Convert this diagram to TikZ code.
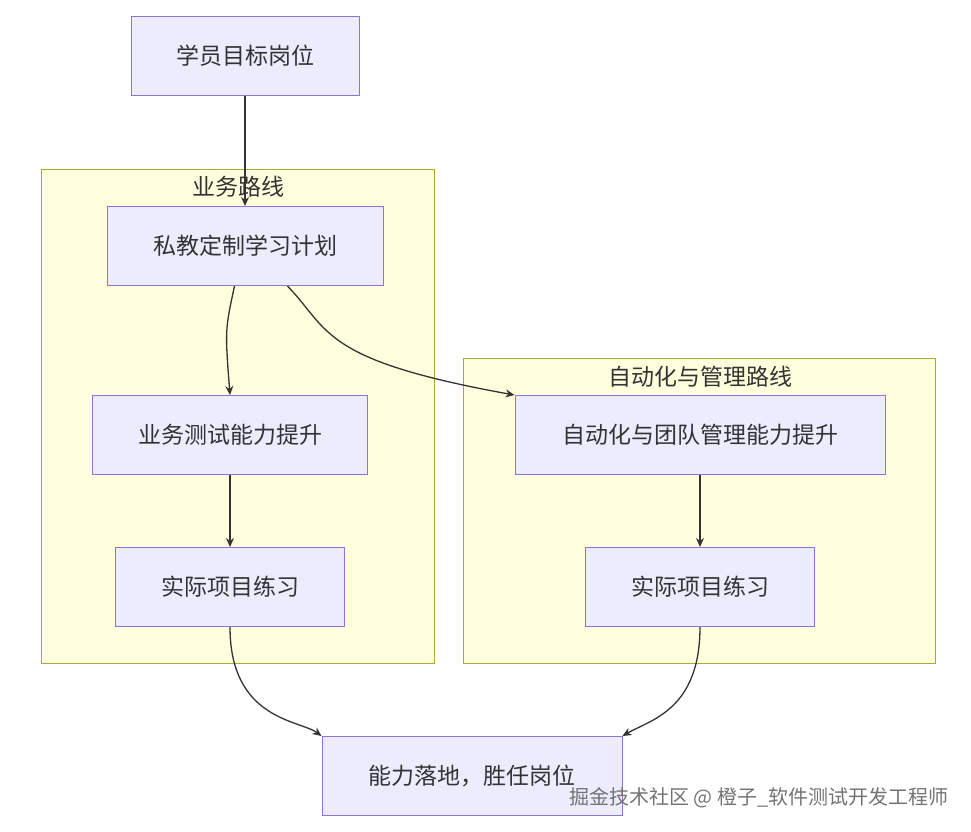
\documentclass[tikz,border=0pt]{standalone}
\usepackage{fontspec}
\setmainfont{Noto Sans CJK SC}
\usetikzlibrary{arrows.meta,positioning}
\definecolor{nodefill}{HTML}{ECECFF}
\definecolor{nodeline}{HTML}{9370DB}
\definecolor{grpfill}{HTML}{FFFFDE}
\definecolor{grpline}{HTML}{AAAA33}
\definecolor{edge}{HTML}{333333}
\tikzstyle{block} = [draw=nodeline, fill=nodefill, rectangle, line width=1pt,
    minimum height=79pt, font=\fontsize{23}{27}\selectfont, text=edge]
\tikzstyle{group} = [draw=grpline, fill=grpfill, line width=1pt]
\tikzstyle{grplabel} = [font=\fontsize{23}{27}\selectfont, text=edge]
\tikzstyle{link} = [draw=edge, line width=1.3pt, -{Stealth[length=9pt,width=8pt]}]

\begin{document}
\begin{tikzpicture}[x=1pt, y=-1pt]
\useasboundingbox (0,0) rectangle (971,831);

% groups
\draw [group] (41,169) rectangle (434,663);
\node [grplabel] (bizlbl) at (238,187) {业务路线};
\draw [group] (463,358) rectangle (935,663);
\node [grplabel] (autolbl) at (700,377) {自动化与管理路线};

\node [block, minimum width=228pt] (goal) at (245,56) {学员目标岗位};
\node [block, minimum width=276pt] (plan) at (245,246) {私教定制学习计划};
\node [block, minimum width=275pt] (biz) at (230,435) {业务测试能力提升};
\node [block, minimum width=229pt] (prac1) at (230,587) {实际项目练习};
\node [block, minimum width=370pt] (auto) at (700,435) {自动化与团队管理能力提升};
\node [block, minimum width=229pt] (prac2) at (700,587) {实际项目练习};
\node [block, minimum width=300pt] (done) at (472,776) {能力落地，胜任岗位};

\draw [link] (goal) -- (plan);
\draw [link] (plan.south west) ++(128,0) .. controls (225,330) .. (biz.north);
\draw [link] (plan.south east) ++(-96,0) .. controls (330,330) and (320,360) .. (auto.north west);
\draw [link] (biz) -- (prac1);
\draw [link] (auto) -- (prac2);
\draw [link] (prac1.south) .. controls (230,720) and (300,720) .. (done.north west);
\draw [link] (prac2.south) .. controls (700,710) and (650,720) .. (done.north east);

\node [font=\fontsize{20}{24}\selectfont, text=black!55] (mark) at (759,798)
  {掘金技术社区 @ 橙子\_软件测试开发工程师};
\end{tikzpicture}
\end{document}
